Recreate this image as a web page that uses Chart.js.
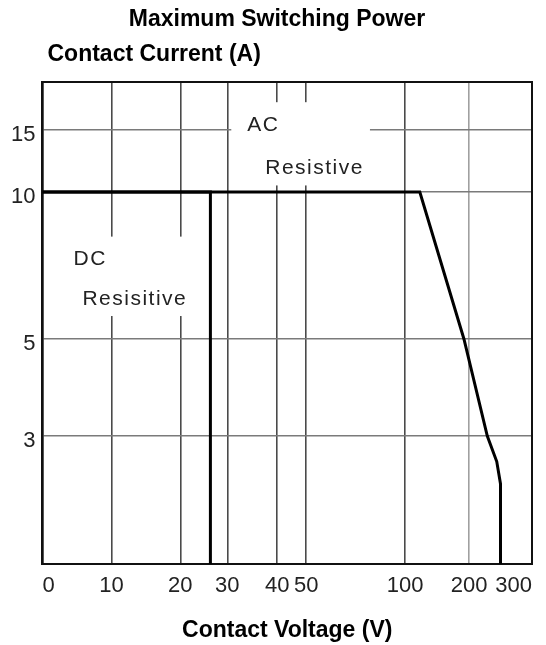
<!DOCTYPE html>
<html>
<head>
<meta charset="utf-8">
<script src="https://cdn.jsdelivr.net/npm/chart.js@4.4.0/dist/chart.umd.min.js"></script>
<style>
  html, body { margin: 0; padding: 0; background: #fff; }
</style>
</head>
<body>
<canvas id="chart" width="546" height="645"></canvas>
<script>
// printed tick values (both axes are non-linear on the original sheet)
const voltTicks = [0, 10, 20, 30, 40, 50, 100, 200, 300];
const ampTicks = [1, 3, 5, 10, 15, 20];
const ampTickLabels = ['', '3', '5', '10', '15', ''];

// AC resistive load limit
const acVolts = [0, 123, 192, 229, 244, 250, 250];
const acAmps = [10, 10, 5, 3, 2.6, 2.25, 1];

// DC resistive load limit
const dcVolts = [0, 26.4, 26.4];
const dcAmps = [10, 10, 1];

// region labels, anchored in data units
const notes = [
  { text: 'AC', v: 34, a: 15.5, group: 0 },
  { text: 'Resistive', v: 37.6, a: 11.9, group: 0 },
  { text: 'DC', v: 4.5, a: 7.7, group: 1 },
  { text: 'Resisitive', v: 5.8, a: 6.36, group: 1 }
];

const FONT = "'Liberation Sans', Arial, sans-serif";

// linear scale that maps each tick interval onto its own share of the axis
class PiecewiseScale extends Chart.LinearScale {
  buildTicks() {
    return this.options.breaks.map(v => ({ value: v }));
  }
  getPixelForValue(value) {
    const b = this.options.breaks;
    const s = this.options.stops;
    let i = 1;
    while (i < b.length - 1 && value > b[i]) i++;
    const t = s[i - 1] + (value - b[i - 1]) / (b[i] - b[i - 1]) * (s[i] - s[i - 1]);
    return this.getPixelForDecimal(t);
  }
  getValueForPixel(pixel) {
    const b = this.options.breaks;
    const s = this.options.stops;
    const d = this.getDecimalForPixel(pixel);
    let i = 1;
    while (i < s.length - 1 && d > s[i]) i++;
    return b[i - 1] + (d - s[i - 1]) / (s[i] - s[i - 1]) * (b[i] - b[i - 1]);
  }
}
PiecewiseScale.id = 'piecewise';
Chart.register(PiecewiseScale);

const notesPlugin = {
  id: 'notes',
  beforeDatasetsDraw(chart) {
    const ctx = chart.ctx;
    const x = chart.scales.x;
    const y = chart.scales.y;
    const area = chart.chartArea;

    ctx.save();
    ctx.font = '21px ' + FONT;
    ctx.letterSpacing = '1.5px';
    ctx.textBaseline = 'middle';
    ctx.textAlign = 'left';

    // white out the grid behind each text group
    const boxes = {};
    notes.forEach(n => {
      const px = x.getPixelForValue(n.v);
      const py = y.getPixelForValue(n.a);
      const w = ctx.measureText(n.text).width;
      const b = boxes[n.group] || { l: Infinity, r: -Infinity, t: Infinity, btm: -Infinity };
      b.l = Math.min(b.l, px);
      b.r = Math.max(b.r, px + w);
      b.t = Math.min(b.t, py - 9);
      b.btm = Math.max(b.btm, py + 9);
      boxes[n.group] = b;
    });
    ctx.fillStyle = '#fff';
    Object.values(boxes).forEach(b => {
      ctx.fillRect(b.l - 16, b.t - 14, b.r - b.l + 22, b.btm - b.t + 22);
    });

    ctx.fillStyle = '#222';
    notes.forEach(n => {
      ctx.fillText(n.text, x.getPixelForValue(n.v), y.getPixelForValue(n.a));
    });

    // closing frame on top and right
    ctx.letterSpacing = '0px';
    ctx.strokeStyle = '#111';
    ctx.lineWidth = 2;
    ctx.strokeRect(area.left, area.top, area.right - area.left, area.bottom - area.top);

    // chart title and the y axis title, both above the plot
    ctx.fillStyle = '#000';
    ctx.font = 'bold 23px ' + FONT;
    ctx.textAlign = 'center';
    ctx.fillText('Maximum Switching Power', 277, 20);
    ctx.textAlign = 'left';
    ctx.fillText('Contact Current (A)', area.left + 5, area.top - 27);
    ctx.restore();
  }
};

const ctx = document.getElementById('chart').getContext('2d');

new Chart(ctx, {
  type: 'line',
  data: {
    datasets: [
      {
        label: 'AC Resistive',
        data: acVolts.map((v, i) => ({ x: v, y: acAmps[i] })),
        borderColor: '#000',
        borderWidth: 3,
        pointRadius: 0,
        fill: false,
        tension: 0
      },
      {
        label: 'DC Resistive',
        data: dcVolts.map((v, i) => ({ x: v, y: dcAmps[i] })),
        borderColor: '#000',
        borderWidth: 3,
        pointRadius: 0,
        fill: false,
        tension: 0
      }
    ]
  },
  options: {
    responsive: false,
    animation: false,
    events: [],
    layout: { padding: { left: 4, right: 14, top: 82, bottom: 0 } },
    plugins: {
      legend: { display: false },
      tooltip: { enabled: false },
      title: { display: false }
    },
    scales: {
      x: {
        type: 'piecewise',
        min: voltTicks[0],
        max: voltTicks[voltTicks.length - 1],
        breaks: voltTicks,
        stops: [0, 0.1408, 0.2816, 0.3776, 0.4796, 0.5388, 0.7408, 0.8714, 1],
        border: { display: true, color: '#111', width: 2 },
        grid: {
          drawTicks: false,
          lineWidth: 1.6,
          color: c => (c.tick && c.tick.value === 200 ? '#a0a0a0' : '#4a4a4a')
        },
        ticks: {
          autoSkip: false,
          minRotation: 0,
          maxRotation: 0,
          align: 'inner',
          padding: 9,
          color: '#222',
          font: { family: FONT, size: 22 }
        },
        title: {
          display: true,
          text: 'Contact Voltage (V)',
          color: '#000',
          font: { family: FONT, size: 23, weight: 'bold' },
          padding: { top: 8, bottom: 1 }
        }
      },
      y: {
        type: 'piecewise',
        min: ampTicks[0],
        max: ampTicks[ampTicks.length - 1],
        breaks: ampTicks,
        stops: [0, 0.2656, 0.4668, 0.7718, 0.9004, 1],
        border: { display: true, color: '#111', width: 2 },
        grid: {
          drawTicks: false,
          lineWidth: 1.5,
          color: '#7a7a7a'
        },
        ticks: {
          autoSkip: false,
          padding: 7,
          labelOffset: 5,
          color: '#222',
          font: { family: FONT, size: 22 },
          callback: (value, index) => ampTickLabels[index]
        }
      }
    }
  },
  plugins: [notesPlugin]
});
</script>
</body>
</html>
